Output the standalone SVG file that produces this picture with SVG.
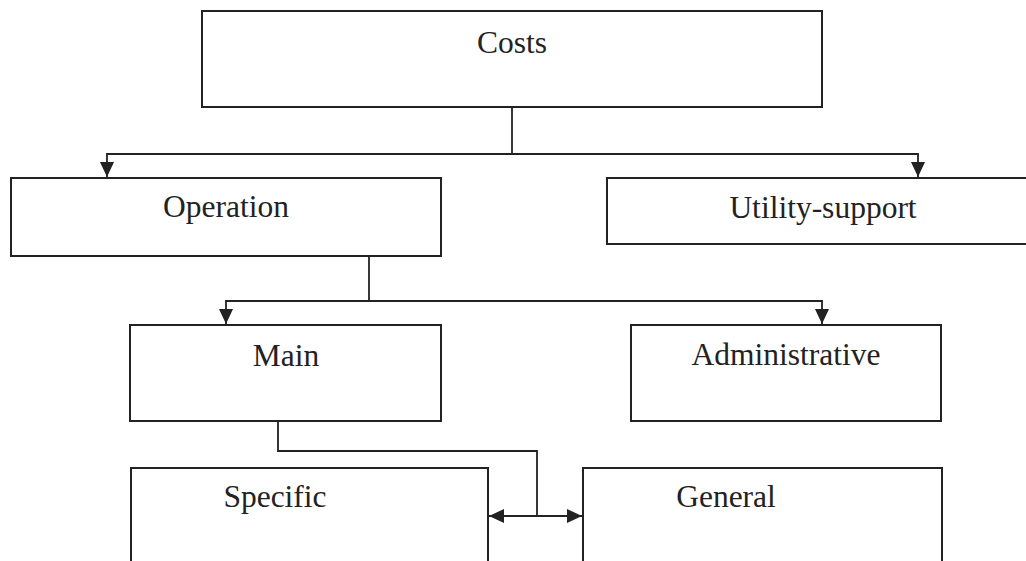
<svg xmlns="http://www.w3.org/2000/svg" width="1026" height="561" viewBox="0 0 1026 561">
<style>
.box{fill:#fff;stroke:#222;stroke-width:2}
.lbl{font-family:"Liberation Serif","Times New Roman",serif;font-size:31.5px;fill:#222;text-anchor:middle}
.ln{fill:none;stroke:#222;stroke-width:1.8}
</style>
<defs>
<marker id="ah" viewBox="0 0 15 14" refX="15" refY="7" markerWidth="15" markerHeight="14" markerUnits="userSpaceOnUse" orient="auto-start-reverse">
<path d="M0,0 L15,7 L0,14 Z" fill="#222"/>
</marker>
</defs>
<rect width="1026" height="561" fill="#fff"/>
<g id="costs"><rect class="box" x="202" y="11" width="620" height="96"/><text class="lbl" x="512" y="53">Costs</text></g>
<g id="operation"><rect class="box" x="11" y="178" width="430" height="78"/><text class="lbl" x="226" y="217">Operation</text></g>
<g id="utility-support"><rect class="box" x="607" y="178" width="430" height="66"/><text class="lbl" x="823" y="218">Utility-support</text></g>
<g id="main"><rect class="box" x="130" y="325" width="311" height="96"/><text class="lbl" x="286" y="366">Main</text></g>
<g id="administrative"><rect class="box" x="631" y="325" width="310" height="96"/><text class="lbl" x="786" y="365">Administrative</text></g>
<g id="specific"><rect class="box" x="131" y="468" width="357" height="110"/><text class="lbl" x="275" y="507">Specific</text></g>
<g id="general"><rect class="box" x="583" y="468" width="359" height="110"/><text class="lbl" x="726" y="507">General</text></g>
<g id="connectors">
<path class="ln" d="M512,107 V154"/>
<path class="ln" d="M512,154 H107 V177" marker-end="url(#ah)"/>
<path class="ln" d="M512,154 H918 V177" marker-end="url(#ah)"/>
<path class="ln" d="M369,256 V301"/>
<path class="ln" d="M369,301 H226 V324" marker-end="url(#ah)"/>
<path class="ln" d="M369,301 H822 V324" marker-end="url(#ah)"/>
<path class="ln" d="M278,421 V451 H537 V516"/>
<path class="ln" d="M489,516 H582" marker-start="url(#ah)" marker-end="url(#ah)"/>
</g>
</svg>
